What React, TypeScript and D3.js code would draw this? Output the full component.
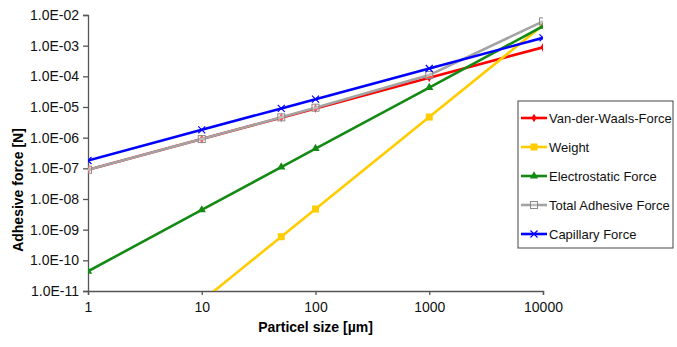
import React, { useEffect, useRef } from 'react';
import * as d3 from 'd3';

// particle sizes [µm]
const sizes = [1, 10, 50, 100, 1000, 10000];

const vanDerWaals = [9e-8, 9e-7, 4.5e-6, 9e-6, 9e-5, 8.8e-4];
const weight = [4.7e-15, 4.7e-12, 5.9e-10, 4.7e-9, 4.7e-6, 4.7e-3];
const electrostatic = [4.4e-11, 4.4e-9, 1.1e-7, 4.4e-7, 4.3e-5, 4.3e-3];
const totalAdhesive = [9e-8, 9e-7, 4.6e-6, 9.5e-6, 1.1e-4, 6.2e-3];
const capillary = [1.8e-7, 1.8e-6, 9e-6, 1.8e-5, 1.8e-4, 1.8e-3];

const xTicks = [1, 10, 100, 1000, 10000];
const yTicks = [1e-11, 1e-10, 1e-9, 1e-8, 1e-7, 1e-6, 1e-5, 1e-4, 1e-3, 1e-2];

const series = [
  { name: 'Van-der-Waals-Force', values: vanDerWaals, color: '#ff0000', marker: 'diamond' },
  { name: 'Weight', values: weight, color: '#ffcc00', marker: 'square' },
  { name: 'Electrostatic Force', values: electrostatic, color: '#138a13', marker: 'triangle' },
  { name: 'Total Adhesive Force', values: totalAdhesive, color: '#a3a3a3', marker: 'openSquare' },
  { name: 'Capillary Force', values: capillary, color: '#0000ff', marker: 'cross' },
];

const width = 677;
const height = 347;
const margin = { top: 15, right: 134, bottom: 56, left: 88 };

const drawMarker = (g, type, color) => {
  if (type === 'diamond') {
    g.append('path').attr('d', d3.symbol(d3.symbolDiamond, 22)()).attr('fill', color);
  } else if (type === 'square') {
    g.append('rect').attr('x', -3.5).attr('y', -3.5).attr('width', 7).attr('height', 7).attr('fill', color);
  } else if (type === 'triangle') {
    g.append('path').attr('d', d3.symbol(d3.symbolTriangle, 30)()).attr('fill', color);
  } else if (type === 'openSquare') {
    g.append('rect').attr('x', -3.5).attr('y', -3.5).attr('width', 7).attr('height', 7)
      .attr('fill', 'white').attr('fill-opacity', 0.3).attr('stroke', '#8a8a8a').attr('stroke-width', 1);
  } else if (type === 'cross') {
    g.append('path').attr('d', 'M-3.5,-3.5L3.5,3.5M-3.5,3.5L3.5,-3.5')
      .attr('stroke', color).attr('stroke-width', 1.2).attr('fill', 'none');
  }
};

const fmtExp = (d) => {
  const e = Math.round(Math.log10(d));
  return `1.0E${e < 0 ? '-' : '+'}${String(Math.abs(e)).padStart(2, '0')}`;
};

const App = () => {
  const svgRef = useRef(null);

  useEffect(() => {
    const svg = d3.select(svgRef.current);
    svg.selectAll('*').remove();

    const x = d3.scaleLog().domain([1, 10000]).range([margin.left, width - margin.right]);
    const y = d3.scaleLog().domain([1e-11, 1e-2]).range([height - margin.bottom, margin.top]);

    svg.append('defs').append('clipPath').attr('id', 'plot-clip')
      .append('rect')
      .attr('x', margin.left).attr('y', margin.top)
      .attr('width', width - margin.left - margin.right)
      .attr('height', height - margin.top - margin.bottom);

    const font = '"Liberation Sans", Arial, sans-serif';

    const yAxis = d3.axisLeft(y).tickValues(yTicks).tickFormat(fmtExp).tickSize(5).tickPadding(4);
    svg.append('g')
      .attr('transform', `translate(${margin.left},0)`)
      .call(yAxis)
      .call(g => g.selectAll('text').attr('font-size', 14).attr('font-family', font).attr('fill', '#111'))
      .call(g => g.selectAll('line, path').attr('stroke', '#555').attr('stroke-width', 1.3));

    const xAxis = d3.axisBottom(x).tickValues(xTicks).tickFormat(d3.format('d')).tickSize(4).tickPadding(7);
    svg.append('g')
      .attr('transform', `translate(0,${height - margin.bottom})`)
      .call(xAxis)
      .call(g => g.selectAll('text').attr('font-size', 14).attr('font-family', font).attr('fill', '#111'))
      .call(g => g.selectAll('line, path').attr('stroke', '#555').attr('stroke-width', 1.3));

    const plot = svg.append('g').attr('clip-path', 'url(#plot-clip)');
    const line = d3.line().x((d, i) => x(sizes[i])).y(d => y(d));

    series.forEach(s => {
      plot.append('path')
        .datum(s.values)
        .attr('d', line)
        .attr('fill', 'none')
        .attr('stroke', s.color)
        .attr('stroke-width', 2.6);
      s.values.forEach((v, i) => {
        const g = plot.append('g').attr('transform', `translate(${x(sizes[i])},${y(v)})`);
        drawMarker(g, s.marker, s.color);
      });
    });

    // axis titles
    svg.append('text')
      .attr('x', (margin.left + width - margin.right) / 2)
      .attr('y', 332)
      .attr('text-anchor', 'middle')
      .attr('font-size', 14).attr('font-weight', 'bold').attr('font-family', font)
      .text('Particel size [µm]');

    svg.append('text')
      .attr('transform', `translate(23,${(margin.top + height - margin.bottom) / 2 + 37}) rotate(-90)`)
      .attr('text-anchor', 'middle')
      .attr('font-size', 14).attr('font-weight', 'bold').attr('font-family', font)
      .text('Adhesive force [N]');

    // legend
    const legend = svg.append('g').attr('transform', 'translate(518,101)');
    legend.append('rect')
      .attr('width', 155).attr('height', 147)
      .attr('fill', 'white').attr('stroke', '#444').attr('stroke-width', 1);

    series.forEach((s, i) => {
      const row = legend.append('g').attr('transform', `translate(0,${17 + i * 29})`);
      row.append('line').attr('x1', 3).attr('x2', 29).attr('stroke', s.color).attr('stroke-width', 2.6);
      const m = row.append('g').attr('transform', 'translate(16,0)');
      drawMarker(m, s.marker, s.color);
      row.append('text')
        .attr('x', 31).attr('dy', '0.35em')
        .attr('font-size', 13).attr('font-family', font).attr('fill', '#111')
        .text(s.name);
    });
  }, []);

  return (
    <svg
      ref={svgRef}
      width={width}
      height={height}
      style={{ position: 'absolute', left: 0, top: 0, background: 'white' }}
    />
  );
};

export default App;
